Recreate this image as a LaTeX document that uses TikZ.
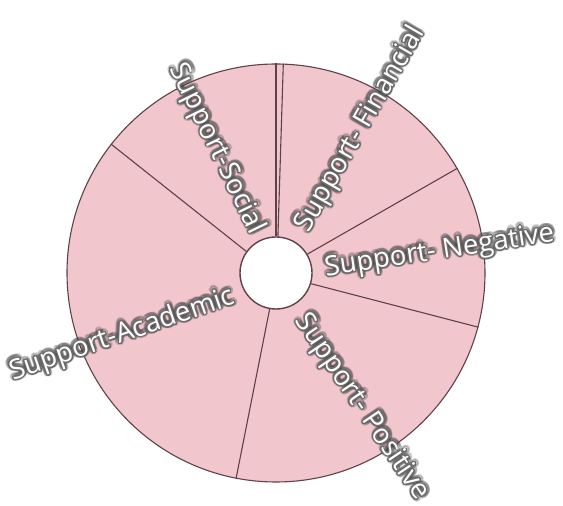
\documentclass[tikz,border=0pt]{standalone}
\usepackage{fontspec}
\setmainfont{Open Sans}
\usepackage{xcolor}
\usepackage[copies]{contour}
\usepackage{tikz}
\usetikzlibrary{calc}
\definecolor{wheelpink}{RGB}{242, 198, 205}
\definecolor{wheelline}{RGB}{95, 65, 72}
\definecolor{glowgray}{RGB}{70, 70, 70}
\contourlength{0.9pt}
\contournumber{32}
\newcommand{\glow}[1]{\contour{glowgray!80}{#1}}

\begin{document}
\begin{tikzpicture}[x=1pt, y=1pt,
    lbl/.style={text=white, font=\fontsize{27.5}{32}\selectfont, inner sep=0pt, anchor=west},
    lblshade/.style={lbl, text=glowgray, text opacity=0.12}]
    \useasboundingbox (0,0) rectangle (563,506);
    % Outer wheel and hub
    \node[circle, draw=wheelline, fill=wheelpink, line width=1.1pt, minimum size=418pt, inner sep=0pt] (rim) at (276,233) {};
    \node[circle, draw=wheelline, fill=white, line width=1.4pt, minimum size=72pt, inner sep=0pt] (hub) at (276,233) {};
    
    % Spokes between the sectors
    \foreach \a/\b in {90/90, 87/88.6, 144/142.5, 31/30.7, 343.5/345.4, 260/259.7}
        \draw[wheelline, line width=1.1pt] (hub.\a) -- (rim.\b);
    
    % Sector labels
    \foreach \nm/\x/\y/\ang/\txt in {
        social/175/441/-64/Support-Social,
        financial/303/276/60/Support- Financial,
        negative/325/236/8.7/Support- Negative,
        positive/300/189/-56/Support- Positive,
        academic/11/132/19/Support-Academic} {
        \node[lblshade, rotate=\ang] (\nm-shade) at (\x,\y) {\contourlength{3.2pt}\contour{glowgray}{\txt}};
        \node[lbl, rotate=\ang] (\nm) at (\x,\y) {\glow{\txt}};
    }
\end{tikzpicture}
\end{document}
